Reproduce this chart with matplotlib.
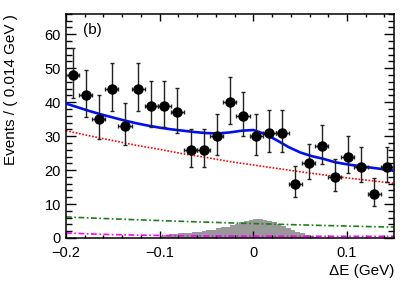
import numpy as np
import matplotlib
matplotlib.use("Agg")
import matplotlib.pyplot as plt
from matplotlib.ticker import MultipleLocator

plt.rcParams['font.family'] = ['Liberation Sans', 'DejaVu Sans']

# data points, bins of 0.014 GeV
bin_centers = [-0.193, -0.179, -0.165, -0.151, -0.137, -0.123, -0.109, -0.095,
               -0.081, -0.067, -0.053, -0.039, -0.025, -0.011, 0.003, 0.017,
               0.031, 0.045, 0.059, 0.073, 0.087, 0.101, 0.115, 0.129, 0.143]
counts = [48, 42, 35, 44, 33, 44, 39, 39, 37, 26, 26, 30, 40, 36, 30, 31,
          31, 16, 22, 27, 18, 24, 21, 13, 21]
bin_half = 0.007

# signal MC shape (grey histogram)
sig_centers = [-0.0975, -0.0925, -0.0875, -0.0825, -0.0775, -0.0725, -0.0675,
               -0.0625, -0.0575, -0.0525, -0.0475, -0.0425, -0.0375, -0.0325,
               -0.0275, -0.0225, -0.0175, -0.0125, -0.0075, -0.0025, 0.0025,
               0.0075, 0.0125, 0.0175, 0.0225, 0.0275, 0.0325, 0.0375, 0.0425,
               0.0475, 0.0525, 0.0575, 0.0625, 0.0675]
sig_heights = [0.6, 1.0, 1.2, 1.3, 1.4, 1.5, 1.6, 1.7, 1.9, 2.1, 2.3, 2.5, 2.8,
               3.2, 3.3, 3.7, 4.2, 4.7, 5.1, 5.4, 5.5, 5.5, 5.4, 5.0, 4.6, 4.1,
               3.5, 2.9, 2.4, 1.9, 1.4, 0.9, 0.5, 0.2]
sig_width = 0.005

# fit components
comp_x = [-0.2, -0.175, -0.15, -0.125, -0.1, -0.075, -0.05, -0.025, 0.0,
          0.025, 0.05, 0.075, 0.1, 0.125, 0.15]
bkg_red = [31.6, 30.1, 28.7, 27.3, 26.1, 24.8, 23.7, 22.5, 21.5, 20.5, 19.5,
           18.6, 17.7, 16.9, 16.1]
bkg_green = [6.2, 5.91, 5.64, 5.38, 5.13, 4.89, 4.67, 4.45, 4.25, 4.05, 3.86,
             3.69, 3.52, 3.35, 3.20]
bkg_magenta = [1.5, 1.2, 1.0, 0.85, 0.75, 0.68, 0.62, 0.58, 0.55, 0.53, 0.51,
               0.5, 0.5, 0.5, 0.5]

total_x = [-0.2, -0.1875, -0.175, -0.1625, -0.15, -0.1375, -0.125, -0.1125,
           -0.1, -0.0875, -0.075, -0.0625, -0.05, -0.0375, -0.025, -0.0125,
           0.0, 0.0125, 0.025, 0.0375, 0.05, 0.0625, 0.075, 0.0875, 0.1,
           0.1125, 0.125, 0.1375, 0.15]
total_y = [39.6, 38.5, 37.4, 36.4, 35.5, 34.6, 33.8, 33.1, 32.5, 32.0, 31.6,
           31.2, 30.9, 30.8, 31.1, 31.6, 31.8, 30.6, 28.8, 26.8, 25.2, 24.1,
           23.3, 22.3, 21.7, 21.2, 20.75, 20.3, 19.8]

xticks = [-0.2, -0.1, 0.0, 0.1]
xticklabels = ["\u22120.2", "\u22120.1", "0", "0.1"]
yticks = [0, 10, 20, 30, 40, 50, 60]

# asymmetric poisson errors (Gehrels approximation)
n = np.array(counts, dtype=float)
err_up = np.sqrt(n + 0.75) + 1.0
err_lo = n * (1 - (1 - 1 / (9 * n) - 1 / (3 * np.sqrt(n))) ** 3)

fig = plt.figure(figsize=(4.15, 2.84), dpi=100)
ax = fig.add_axes([0.159, 0.162, 0.790, 0.789])

ax.bar(sig_centers, sig_heights, width=sig_width, color="#999999",
       edgecolor="none", zorder=1)
ax.plot(comp_x, bkg_magenta, color="magenta", lw=1.2,
        dashes=(3.5, 1.5, 1, 1.5), zorder=2)
ax.plot(comp_x, bkg_green, color="#1c7d1c", lw=1.2,
        dashes=(3.5, 1.5, 1, 1.5), zorder=2)
ax.plot(comp_x, bkg_red, color="red", lw=1.2, ls=(0, (1, 1)), zorder=2)
ax.plot(total_x, total_y, color="#0010ee", lw=1.9, zorder=3)

ax.errorbar(bin_centers, counts, yerr=[err_lo, err_up], xerr=bin_half,
            fmt="o", color="black", ecolor="#222222", elinewidth=1.0,
            capsize=1.5, capthick=1.0, markersize=6.5, zorder=4)

ax.set_xlim(-0.2, 0.15)
ax.set_ylim(0, 66)
ax.set_xticks(xticks)
ax.set_xticklabels(xticklabels)
ax.set_yticks(yticks)
ax.xaxis.set_minor_locator(MultipleLocator(0.02))
ax.yaxis.set_minor_locator(MultipleLocator(2))
ax.tick_params(which="both", direction="in", top=True, right=True,
               labelsize=10.5, width=1.0)
ax.tick_params(axis="x", which="major", length=5, pad=5.5)
ax.tick_params(axis="x", which="minor", length=2.5)
ax.tick_params(axis="y", which="major", length=7.5, pad=3.5)
ax.tick_params(axis="y", which="minor", length=4)
for s in ax.spines.values():
    s.set_linewidth(1.1)

ax.text(0.079, 0.929, "(b)", transform=ax.transAxes, fontsize=11,
        ha="center", va="center")
fig.text(11 / 415, 1 - 14 / 284, "Events / ( 0.014 GeV )", rotation=90,
         ha="center", va="top", fontsize=11)
fig.text(394 / 415, 1 - 271 / 284, "\u0394E (GeV)", ha="right",
         va="center", fontsize=11)

fig.savefig("out.png", dpi=100)
